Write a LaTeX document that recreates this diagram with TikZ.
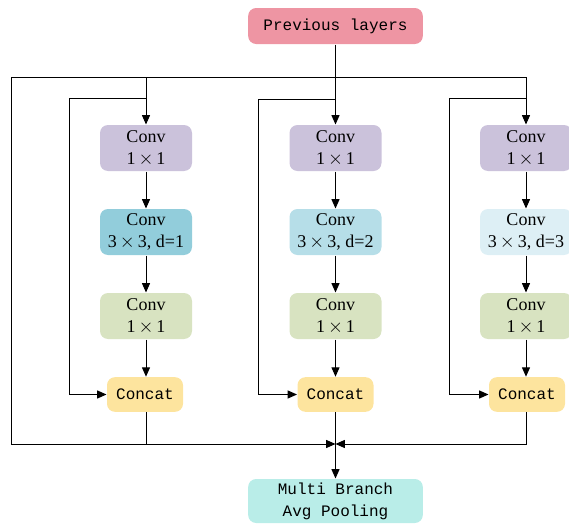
\documentclass[tikz,border=0pt]{standalone}
\usepackage{fontspec}
\setmainfont{Liberation Serif}
\newfontfamily\codefont{Liberation Mono}
\usetikzlibrary{arrows.meta}

\definecolor{prevpink}{HTML}{EE95A3}
\definecolor{convpurple}{HTML}{CBC2DB}
\definecolor{dilone}{HTML}{92CDDB}
\definecolor{diltwo}{HTML}{B6DEE8}
\definecolor{dilthree}{HTML}{DDEFF5}
\definecolor{convgreen}{HTML}{D8E3C1}
\definecolor{catyellow}{HTML}{FDE49E}
\definecolor{poolcyan}{HTML}{B9EDE8}

\tikzset{every picture/.style={line width=0.75pt}}
\tikzset{
  blk/.style={rounded corners=6pt, inner sep=0pt, align=center, font=\fontsize{13.5}{16.5}\selectfont},
  convbox/.style={blk, minimum width=69pt, minimum height=34.5pt},
  catbox/.style={blk, fill=catyellow, minimum width=57pt, minimum height=26pt, font=\fontsize{12}{16.5}\codefont},
  endbox/.style={blk, minimum width=131pt, font=\fontsize{12}{16.5}\codefont},
  arr/.style={-{Triangle[length=7pt,width=6pt]}}
}

\begin{document}
\begin{tikzpicture}[x=0.75pt,y=0.75pt,yscale=-1,xscale=1]
\useasboundingbox (0,0) rectangle (569,525);

% Input and output
\node [endbox, fill=prevpink, minimum height=27pt] (prev) at (335.5,26) {Previous layers};
\node [endbox, fill=poolcyan, minimum height=33pt] (pool) at (335.5,501) {Multi Branch\\Avg Pooling};

% Branch 1
\node [convbox, fill=convpurple] (reda) at (146,148) {Conv\\1\,$\times$\,1};
\node [convbox, fill=dilone] (dila) at (146,232) {Conv\\3\,$\times$\,3, d=1};
\node [convbox, fill=convgreen] (expa) at (146,316) {Conv\\1\,$\times$\,1};
\node [catbox] (cata) at (145,394.5) {Concat};

% Branch 2
\node [convbox, fill=convpurple] (redb) at (335.5,148) {Conv\\1\,$\times$\,1};
\node [convbox, fill=diltwo] (dilb) at (335.5,232) {Conv\\3\,$\times$\,3, d=2};
\node [convbox, fill=convgreen] (expb) at (335.5,316) {Conv\\1\,$\times$\,1};
\node [catbox] (catb) at (335.5,394.5) {Concat};

% Branch 3
\node [convbox, fill=convpurple] (redc) at (526,148) {Conv\\1\,$\times$\,1};
\node [convbox, fill=dilthree] (dilc) at (526,232) {Conv\\3\,$\times$\,3, d=3};
\node [convbox, fill=convgreen] (expc) at (526,316) {Conv\\1\,$\times$\,1};
\node [catbox] (catc) at (527,394.5) {Concat};

% Routing points
\coordinate (topleft) at (11,77);
\coordinate (merge) at (335.5,444);
\coordinate (loopa) at (69,98);
\coordinate (loopb) at (258,99);
\coordinate (loopc) at (449,98);

% Feed from previous layers
\draw [arr] (prev) -- (redb);
\draw [arr] (topleft) -| (redc);
\draw [arr] (reda.north |- topleft) -- (reda);
\draw [arr] (topleft) |- (merge);

% Main chains
\draw [arr] (reda) -- (dila);
\draw [arr] (dila) -- (expa);
\draw [arr] (expa) -- (expa |- cata.north);
\draw [arr] (redb) -- (dilb);
\draw [arr] (dilb) -- (expb);
\draw [arr] (expb) -- (catb);
\draw [arr] (redc) -- (dilc);
\draw [arr] (dilc) -- (expc);
\draw [arr] (expc) -- (expc |- catc.north);

% Skip connections
\draw [arr] (reda.north |- loopa) -- (loopa) |- (cata.west);
\draw [arr] (redb.north |- loopb) -- (loopb) |- (catb.west);
\draw [arr] (redc.north |- loopc) -- (loopc) |- (catc.west);

% Merge
\draw (cata.south -| expa) -- (expa |- merge);
\draw [arr] (catc.south -| expc) |- (merge);
\draw [arr] (catb) -- (pool);

\end{tikzpicture}
\end{document}
